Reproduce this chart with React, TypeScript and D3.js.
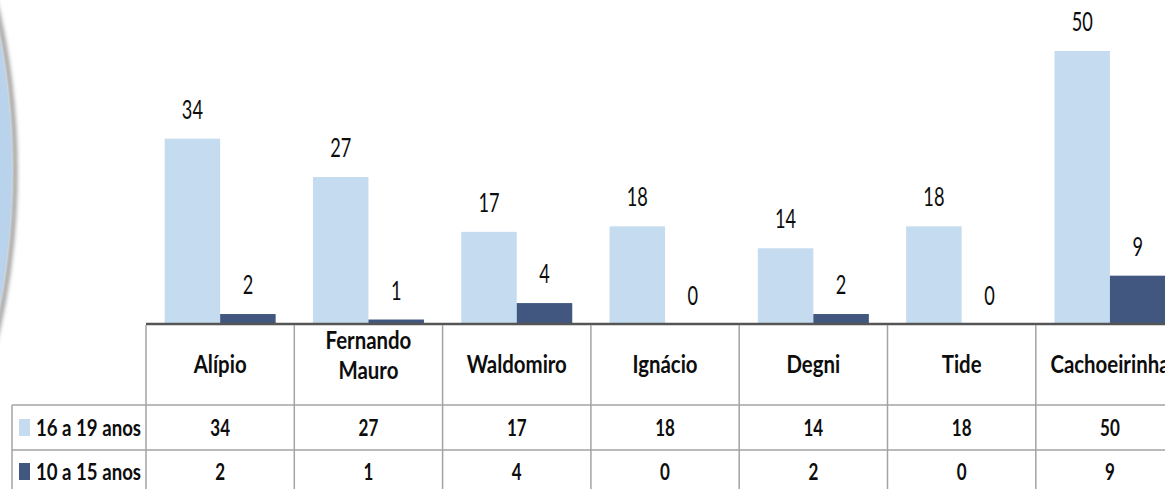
import React from "react";
import * as d3 from "d3";

const categories = ["Alípio", "Fernando Mauro", "Waldomiro", "Ignácio", "Degni", "Tide", "Cachoeirinha"];
const categoryLines = [["Alípio"], ["Fernando", "Mauro"], ["Waldomiro"], ["Ignácio"], ["Degni"], ["Tide"], ["Cachoeirinha"]];
const seriesNames = ["16 a 19 anos", "10 a 15 anos"];
const values16a19 = [34, 27, 17, 18, 14, 18, 50];
const values10a15 = [2, 1, 4, 0, 2, 0, 9];
const seriesColors = ["#c5dbef", "#41577f"];

const W = 1165;
const H = 489;
const FONT = "Lato, 'Open Sans', sans-serif";

export default function App() {
  const seriesValues = [values16a19, values10a15];
  const x = d3.scaleBand<string>().domain(categories).range([146, 146 + 148.3 * 7]).padding(0);
  const xs = d3
    .scaleBand<string>()
    .domain(seriesNames)
    .range([0, x.bandwidth()])
    .paddingInner(0)
    .paddingOuter(0.336);
  const y = d3.scaleLinear().domain([0, 50]).range([325, 51]);
  const baseY = 324;
  const row1Top = 405;
  const row2Top = 450;
  const gridColor = "#a3a3a3";

  const txt = (
    key: string,
    cx: number,
    by: number,
    s: string,
    size: number,
    weight: number | string,
    sx: number,
    anchor: string = "middle"
  ) => (
    <text
      key={key}
      transform={`translate(${cx},${by}) scale(${sx},1)`}
      textAnchor={anchor}
      fontFamily={FONT}
      fontSize={size}
      fontWeight={weight}
      fill="#0d0d0d"
    >
      {s}
    </text>
  );

  return (
    <svg
      width={W}
      height={H}
      style={{ position: "absolute", left: 0, top: 0, display: "block", background: "#fff" }}
    >
      <defs>
        <filter id="shadow" x="-20%" y="-20%" width="140%" height="140%">
          <feGaussianBlur stdDeviation="2" />
        </filter>
      </defs>
      {/* decorative ellipse on the left */}
      <ellipse cx={-327} cy={171} rx={342} ry={502} fill="none" stroke="#8a8a8a" strokeWidth={4} filter="url(#shadow)" />
      <ellipse cx={-328} cy={171} rx={340} ry={500} fill="#b9d3ed" />

      {/* bars */}
      {categories.map((c, i) =>
        seriesNames.map((sname, j) => {
          const v = seriesValues[j][i];
          const bx = (x(c) as number) + (xs(sname) as number);
          return (
            <rect
              key={`b-${i}-${j}`}
              x={bx}
              y={y(v)}
              width={xs.bandwidth()}
              height={y(0) - y(v)}
              fill={seriesColors[j]}
            />
          );
        })
      )}
      {/* value labels */}
      {categories.map((c, i) =>
        seriesNames.map((sname, j) => {
          const v = seriesValues[j][i];
          const cx = (x(c) as number) + (xs(sname) as number) + xs.bandwidth() / 2;
          return txt(`l-${i}-${j}`, cx, y(v) - 20, String(v), 26, 400, 0.7);
        })
      )}

      {/* axis baseline */}
      <line x1={146} x2={W} y1={baseY} y2={baseY} stroke="#555" strokeWidth={2.5} />

      {/* table grid */}
      <line x1={12} x2={W} y1={row1Top} y2={row1Top} stroke={gridColor} strokeWidth={1.5} />
      <line x1={12} x2={W} y1={row2Top} y2={row2Top} stroke={gridColor} strokeWidth={1.5} />
      <line x1={12} x2={12} y1={row1Top} y2={H} stroke={gridColor} strokeWidth={1.5} />
      {categories.map((c, i) => (
        <line
          key={`v-${i}`}
          x1={x(c) as number}
          x2={x(c) as number}
          y1={baseY + 1}
          y2={H}
          stroke={gridColor}
          strokeWidth={1.5}
        />
      ))}

      {/* header labels */}
      {categories.map((c, i) => {
        const cx = (x(c) as number) + x.bandwidth() / 2;
        const lines = categoryLines[i];
        if (lines.length === 1) return txt(`h-${i}`, cx, 373, lines[0], 24, 700, 0.85);
        return (
          <g key={`h-${i}`}>
            {lines.map((ln, k) => txt(`h-${i}-${k}`, cx, 349 + k * 30, ln, 24, 700, 0.85))}
          </g>
        );
      })}

      {/* table values */}
      {seriesNames.map((sname, j) =>
        categories.map((c, i) => {
          const cx = (x(c) as number) + x.bandwidth() / 2;
          return txt(`t-${j}-${i}`, cx, j === 0 ? 436 : 480, String(seriesValues[j][i]), 23, 700, 0.74);
        })
      )}

      {/* legend keys */}
      {seriesNames.map((sname, j) => {
        const by = j === 0 ? 436 : 480;
        return (
          <g key={`lg-${j}`}>
            <rect x={19} y={by - 17} width={11} height={17} fill={seriesColors[j]} />
            {txt(`lgt-${j}`, 36, by, sname, 23, 700, 0.81, "start")}
          </g>
        );
      })}
    </svg>
  );
}
